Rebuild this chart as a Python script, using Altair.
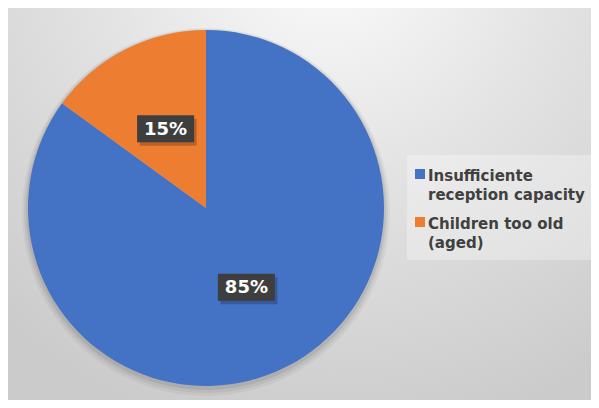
import altair as alt
import pandas as pd

categories = ["Insufficiente reception capacity", "Children too old (aged)"]
legend_labels = ["Insufficiente\nreception capacity", "Children too old\n(aged)"]
values = [85, 15]
colors = ["#4472C4", "#ED7D31"]

W, H = 583, 392
CX, CY, R = 198, 200, 178

df = pd.DataFrame({"category": categories, "label": legend_labels,
                   "value": values, "idx": list(range(len(values)))})
base = alt.Chart(df)

bg = alt.Chart(alt.Data(values=[{}])).mark_rect(
    color=alt.Gradient(gradient="radial", x1=0.55, y1=0.06, r1=0.0,
                       x2=0.55, y2=0.06, r2=0.85,
                       stops=[alt.GradientStop(color="#fcfcfc", offset=0),
                              alt.GradientStop(color="#e4e4e4", offset=0.45),
                              alt.GradientStop(color="#cbcbcb", offset=1)])
).encode(x=alt.value(0), x2=alt.value(W), y=alt.value(0), y2=alt.value(H))

theta = alt.Theta("value:Q", stack=True)
shadows = []
for dr, dy, op in [(6, 4, 0.04), (4, 3, 0.05), (2, 2, 0.07)]:
    shadows.append(base.mark_arc(radius=R + dr, color="#000000", opacity=op).encode(
        theta=theta, order=alt.Order("idx:Q"),
        x=alt.value(CX), y=alt.value(CY + dy)))

pie = base.mark_arc(radius=R).encode(
    theta=theta,
    color=alt.Color("category:N", scale=alt.Scale(domain=categories, range=colors), legend=None),
    order=alt.Order("idx:Q"),
    x=alt.value(CX), y=alt.value(CY),
)

lab = base.transform_joinaggregate(total="sum(value)").transform_window(
    cum="sum(value)", sort=[alt.SortField("idx")], frame=[None, 0]
).transform_calculate(
    mid="2*PI*(datum.cum - datum.value/2)/datum.total",
    pct="format(datum.value/datum.total, '.0%')",
).transform_calculate(
    lx=f"{CX} + {R*0.5}*sin(datum.mid)",
    ly=f"{CY} - {R*0.5}*cos(datum.mid)",
).transform_calculate(
    bx1="datum.lx - 28.5", bx2="datum.lx + 28.5",
    by1="datum.ly - 13.5", by2="datum.ly + 13.5",
    sx1="datum.lx - 26", sx2="datum.lx + 31",
    sy1="datum.ly - 10", sy2="datum.ly + 17",
)

box_shadow = lab.mark_rect(color="#000000", opacity=0.22).encode(
    x=alt.X("sx1:Q", scale=None), x2="sx2:Q",
    y=alt.Y("sy1:Q", scale=None), y2="sy2:Q")
box = lab.mark_rect(color="#3e3e3e").encode(
    x=alt.X("bx1:Q", scale=None), x2="bx2:Q",
    y=alt.Y("by1:Q", scale=None), y2="by2:Q")
txt = lab.mark_text(font="DejaVu Sans", fontSize=18, fontWeight="bold", color="white",
                    baseline="middle", align="center", dy=1).encode(
    x=alt.X("lx:Q", scale=None), y=alt.Y("ly:Q", scale=None), text=alt.Text("pct:N"))

leg_bg = alt.Chart(alt.Data(values=[{}])).mark_rect(color="#ffffff", opacity=0.3).encode(
    x=alt.value(399), x2=alt.value(W), y=alt.value(147), y2=alt.value(252))

leg = base.transform_calculate(
    sy="166 + datum.idx*48", ty1="173 + datum.idx*48", ty2="192 + datum.idx*48",
    line1="split(datum.label, '\\n')[0]", line2="split(datum.label, '\\n')[1]")
leg_sq = leg.mark_square(size=100, opacity=1).encode(
    x=alt.value(412), y=alt.Y("sy:Q", scale=None),
    color=alt.Color("category:N", scale=alt.Scale(domain=categories, range=colors), legend=None))
leg_style = dict(font="DejaVu Sans", fontSize=15, fontWeight="bold", color="#404040",
                 align="left", baseline="alphabetic")
leg_txt1 = leg.mark_text(**leg_style).encode(
    x=alt.value(420), y=alt.Y("ty1:Q", scale=None), text=alt.Text("line1:N"))
leg_txt2 = leg.mark_text(**leg_style).encode(
    x=alt.value(420), y=alt.Y("ty2:Q", scale=None), text=alt.Text("line2:N"))

chart = alt.layer(bg, *shadows, pie, box_shadow, box, txt, leg_bg, leg_sq,
                  leg_txt1, leg_txt2).properties(
    width=W, height=H, padding=0,
    autosize=alt.AutoSizeParams(type="fit", contains="padding"),
).configure_view(stroke=None)

chart.save("out.html", embed_options={"renderer": "svg", "actions": False})
